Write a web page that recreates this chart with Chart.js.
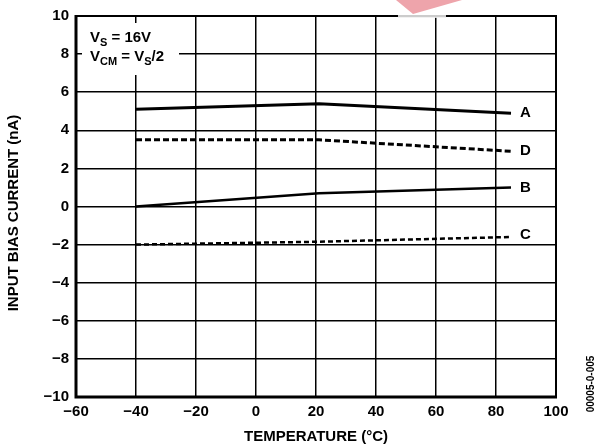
<!DOCTYPE html>
<html>
<head>
<meta charset="utf-8">
<script src="https://cdn.jsdelivr.net/npm/chart.js@4/dist/chart.umd.min.js"></script>
<style>
  html, body { margin: 0; padding: 0; background: #fff; }
  canvas { display: block; }
</style>
</head>
<body>
<canvas id="chart" width="600" height="446"></canvas>
<script>
// values (temperature in °C, current in nA)
const temps = [-40, 21, 85];
const curveA = [5.1, 5.4, 4.9];
const curveD = [3.5, 3.5, 2.9];
const curveB = [0.0, 0.7, 1.0];
const curveC = [-2.0, -1.85, -1.6];
const curveNames = ['A', 'D', 'B', 'C'];

const xTickMin = -60, xTickMax = 100, xStep = 20;
const yTickMin = -10, yTickMax = 10, yStep = 2;

const FONT = "'Liberation Sans', Arial, sans-serif";
const minus = (v) => String(v).replace('-', '\u2212');
const pts = (ys) => ys.map((y, i) => ({ x: temps[i], y }));

// white box with the test conditions, curve letters, frame, side code
const extras = {
  id: 'extras',
  beforeDatasetsDraw(chart) {
    const ctx = chart.ctx;
    ctx.save();
    ctx.fillStyle = '#fff';
    ctx.fillRect(82, 23, 97, 52);

    ctx.fillStyle = '#000';
    ctx.textBaseline = 'alphabetic';
    const big = `bold 15px ${FONT}`, small = `bold 11px ${FONT}`;
    function run(parts, x, y) {
      parts.forEach(([t, sub]) => {
        ctx.font = sub ? small : big;
        ctx.fillText(t, x, sub ? y + 4 : y);
        x += ctx.measureText(t).width;
      });
    }
    run([['V'], ['S', 1], [' = 16V']], 90, 42);
    run([['V'], ['CM', 1], [' = V'], ['S', 1], ['/2']], 90, 61);
    ctx.restore();
  },
  afterDatasetsDraw(chart) {
    const ctx = chart.ctx;
    const a = chart.chartArea;
    ctx.save();
    // curve letters at the right end of each line
    ctx.font = `bold 15px ${FONT}`;
    ctx.fillStyle = '#000';
    ctx.textBaseline = 'middle';
    chart.data.datasets.forEach((ds, i) => {
      const meta = chart.getDatasetMeta(i);
      const last = meta.data[meta.data.length - 1];
      ctx.fillText(curveNames[i], last.x + 9, last.y + (curveNames[i] === 'C' ? -2 : 0));
    });
    // frame: heavier left/bottom
    ctx.strokeStyle = '#000';
    ctx.lineWidth = 2;
    ctx.beginPath();
    ctx.moveTo(a.left, a.top);
    ctx.lineTo(a.right, a.top);
    ctx.lineTo(a.right, a.bottom);
    ctx.stroke();
    ctx.lineWidth = 3;
    ctx.beginPath();
    ctx.moveTo(a.left, a.top - 1);
    ctx.lineTo(a.left, a.bottom);
    ctx.lineTo(a.right + 1, a.bottom);
    ctx.stroke();
    ctx.restore();
  },
  afterDraw(chart) {
    const ctx = chart.ctx;
    const a = chart.chartArea;
    ctx.save();
    // y axis title
    ctx.fillStyle = '#000';
    ctx.font = `bold 15px ${FONT}`;
    ctx.textAlign = 'center';
    ctx.textBaseline = 'middle';
    ctx.translate(14, 213);
    ctx.rotate(-Math.PI / 2);
    ctx.fillText('INPUT BIAS CURRENT (nA)', 0, 0);
    ctx.restore();

    ctx.save();
    ctx.fillStyle = '#000';
    ctx.font = `bold 10px ${FONT}`;
    ctx.textAlign = 'center';
    ctx.textBaseline = 'middle';
    ctx.translate(591, 384);
    ctx.rotate(-Math.PI / 2);
    ctx.fillText('00005-0-005', 0, 0);
    ctx.restore();

    // pink scrap at the top edge
    ctx.save();
    ctx.fillStyle = 'rgba(240,240,240,0.85)';
    ctx.fillRect(398, a.top - 1, 48, 3);
    ctx.fillStyle = '#eea4ab';
    ctx.beginPath();
    ctx.moveTo(396, 0);
    ctx.lineTo(462, 0);
    ctx.lineTo(413, 14);
    ctx.closePath();
    ctx.fill();
    ctx.restore();
  }
};

const tickFont = { family: FONT, size: 15, weight: 'bold' };

new Chart(document.getElementById('chart'), {
  type: 'scatter',
  data: {
    datasets: [
      { label: 'A', data: pts(curveA), borderColor: '#000', borderWidth: 3, showLine: true, pointRadius: 0, tension: 0 },
      { label: 'D', data: pts(curveD), borderColor: '#000', borderWidth: 3, borderDash: [6, 3], showLine: true, pointRadius: 0, tension: 0 },
      { label: 'B', data: pts(curveB), borderColor: '#000', borderWidth: 2.5, showLine: true, pointRadius: 0, tension: 0 },
      { label: 'C', data: pts(curveC), borderColor: '#000', borderWidth: 2.5, borderDash: [5, 3], showLine: true, pointRadius: 0, tension: 0 }
    ]
  },
  options: {
    responsive: false,
    animation: false,
    layout: { padding: { top: 14, right: 44, left: 0, bottom: 0 } },
    plugins: { legend: { display: false }, tooltip: { enabled: false } },
    scales: {
      x: {
        type: 'linear',
        min: xTickMin,
        max: xTickMax,
        afterFit: (s) => { s.height = 49; },
        border: { display: false },
        grid: { color: '#000', lineWidth: 1.5, drawTicks: false },
        ticks: { stepSize: xStep, color: '#000', font: tickFont, padding: 6, maxRotation: 0, callback: minus },
        title: { display: true, text: 'TEMPERATURE (°C)', color: '#000', font: tickFont, padding: { top: 0, bottom: 0 } }
      },
      y: {
        min: yTickMin,
        max: yTickMax,
        afterFit: (s) => { s.width = 76; },
        border: { display: false },
        grid: { color: '#000', lineWidth: 1.5, drawTicks: false },
        ticks: { stepSize: yStep, color: '#000', font: tickFont, padding: 7, callback: minus }
      }
    }
  },
  plugins: [extras]
});
</script>
</body>
</html>
